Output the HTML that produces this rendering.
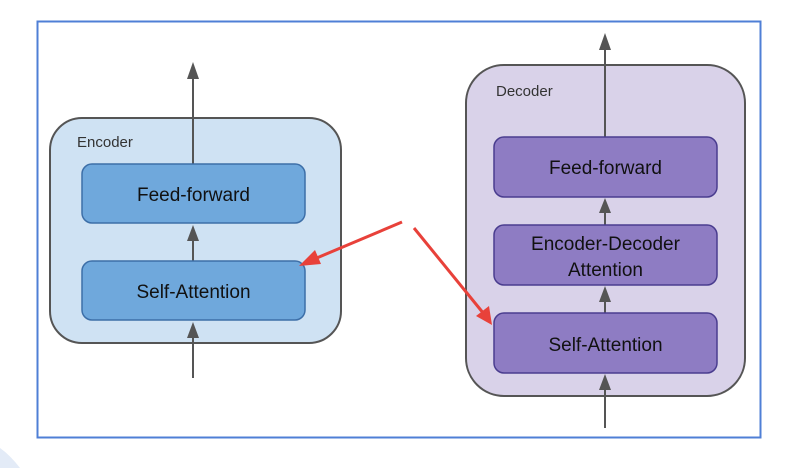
<!DOCTYPE html>
<html><head><style>body{margin:0;background:#fff;}svg{display:block}</style></head>
<body>
<svg width="806" height="468" viewBox="0 0 806 468" font-family="Liberation Sans, sans-serif">
<defs>
<marker id="ah" markerWidth="10" markerHeight="12" refX="5" refY="11" orient="auto-start-reverse" markerUnits="userSpaceOnUse">
</marker>
</defs>
<path d="M0 448 Q10 455 20 468 L0 468Z" fill="#e3ebf7"/>
<rect x="37.5" y="21.5" width="723" height="416" fill="#fff" stroke="#4f7fd6" stroke-width="2"/>
<!-- Encoder -->
<rect x="50" y="118" width="291" height="225" rx="32" fill="#cfe2f3" stroke="#555" stroke-width="2"/>
<text x="77" y="147" font-size="15" fill="#333">Encoder</text>
<g stroke="#555" stroke-width="2" fill="#555">
<line x1="193" y1="75" x2="193" y2="164"/><polygon points="193,62 187,79 199,79" stroke="none"/>
<line x1="193" y1="235" x2="193" y2="261"/><polygon points="193,225 187,241 199,241" stroke="none"/>
<line x1="193" y1="335" x2="193" y2="378"/><polygon points="193,322 187,338 199,338" stroke="none"/>
</g>
<rect x="82" y="164" width="223" height="59" rx="10" fill="#6fa8dc" stroke="#3d6fa8" stroke-width="1.5"/>
<text x="193.5" y="201" font-size="19" text-anchor="middle" fill="#111">Feed-forward</text>
<rect x="82" y="261" width="223" height="59" rx="10" fill="#6fa8dc" stroke="#3d6fa8" stroke-width="1.5"/>
<text x="193.5" y="298" font-size="19" text-anchor="middle" fill="#111">Self-Attention</text>
<!-- Decoder -->
<rect x="466" y="65" width="279" height="331" rx="38" fill="#d9d2e9" stroke="#555" stroke-width="2"/>
<text x="496" y="96" font-size="15" fill="#333">Decoder</text>
<g stroke="#555" stroke-width="2" fill="#555">
<line x1="605" y1="45" x2="605" y2="137"/><polygon points="605,33 599,50 611,50" stroke="none"/>
<line x1="605" y1="208" x2="605" y2="225"/><polygon points="605,198 599,213 611,213" stroke="none"/>
<line x1="605" y1="297" x2="605" y2="313"/><polygon points="605,286 599,302 611,302" stroke="none"/>
<line x1="605" y1="385" x2="605" y2="428"/><polygon points="605,374 599,390 611,390" stroke="none"/>
</g>
<rect x="494" y="137" width="223" height="60" rx="10" fill="#8e7cc3" stroke="#4a3d8f" stroke-width="1.5"/>
<text x="605.5" y="174" font-size="19" text-anchor="middle" fill="#111">Feed-forward</text>
<rect x="494" y="225" width="223" height="60" rx="10" fill="#8e7cc3" stroke="#4a3d8f" stroke-width="1.5"/>
<text x="605.5" y="250" font-size="19" text-anchor="middle" fill="#111">Encoder-Decoder</text>
<text x="605.5" y="276" font-size="19" text-anchor="middle" fill="#111">Attention</text>
<rect x="494" y="313" width="223" height="60" rx="10" fill="#8e7cc3" stroke="#4a3d8f" stroke-width="1.5"/>
<text x="605.5" y="351" font-size="19" text-anchor="middle" fill="#111">Self-Attention</text>
<!-- red arrows -->
<g fill="#e8413a" stroke="#e8413a" stroke-width="3">
<line x1="402" y1="222" x2="312" y2="260"/>
<polygon points="299,266 315,250 321,264" stroke="none"/>
<line x1="414" y1="228" x2="484" y2="314"/>
<polygon points="492,325 476,316 489,306" stroke="none"/>
</g>
</svg>
</body></html>
